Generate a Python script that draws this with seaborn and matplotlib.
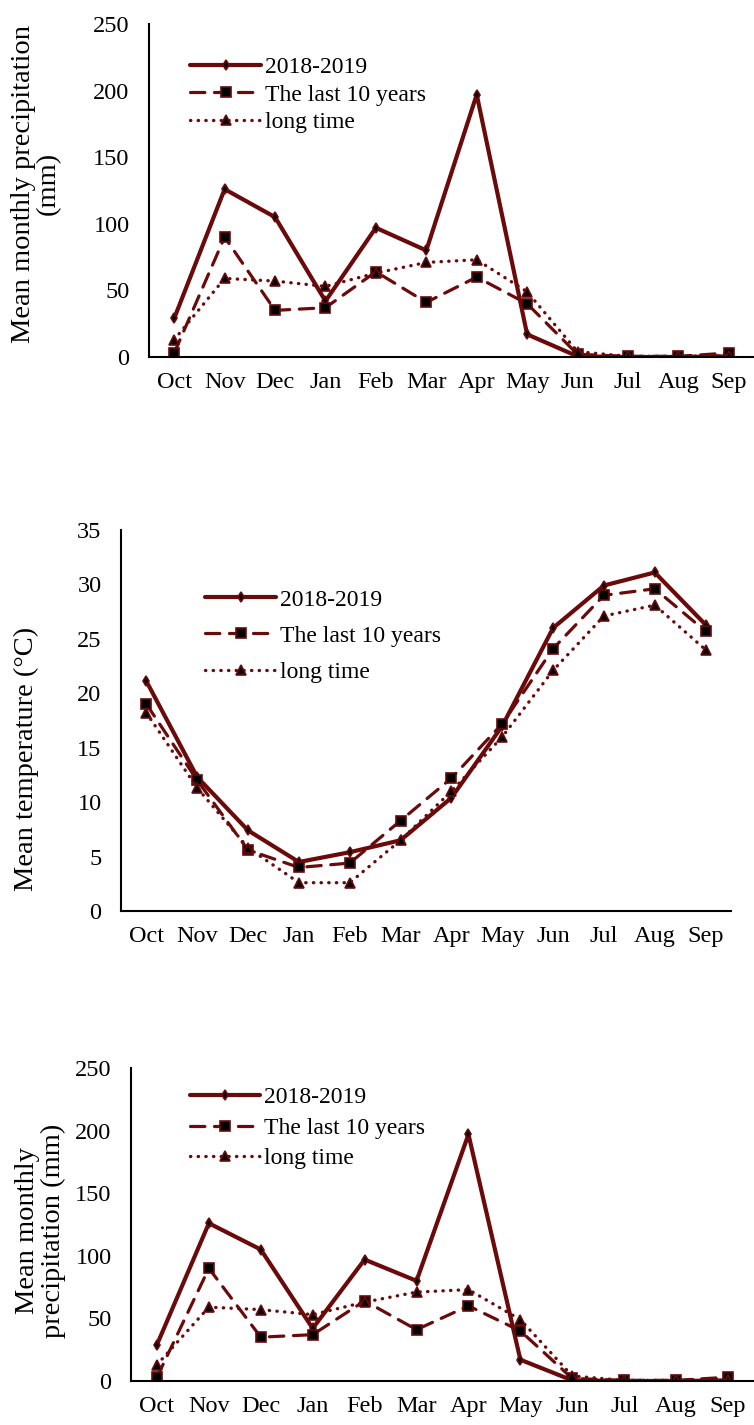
import matplotlib
matplotlib.use("Agg")
import matplotlib.pyplot as plt
import seaborn as sns
import numpy as np
import pandas as pd

months = ["Oct", "Nov", "Dec", "Jan", "Feb", "Mar", "Apr", "May", "Jun", "Jul", "Aug", "Sep"]
series_names = ["2018-2019", "The last 10 years", "long time"]

precip_2018 = [29, 126, 105, 42, 97, 80, 197, 17, 0.5, 0, 0, 0.5]
precip_10yr = [3, 90, 35, 37, 64, 41, 60, 40, 2, 0.5, 0.5, 3]
precip_long = [13, 59, 57, 53, 63, 71, 73, 49, 4, 0.5, 0.5, 1]

temp_2018 = [21.1, 12.3, 7.4, 4.5, 5.4, 6.5, 10.4, 17.0, 26.0, 29.9, 31.1, 26.3]
temp_10yr = [19.0, 12.0, 5.6, 4.0, 4.4, 8.3, 12.2, 17.2, 24.1, 29.0, 29.6, 25.7]
temp_long = [18.2, 11.3, 5.8, 2.6, 2.6, 6.5, 11.0, 16.0, 22.1, 27.1, 28.1, 24.0]

sns.set_theme(style="white")
plt.rcParams["font.family"] = ["Liberation Serif", "DejaVu Serif"]

color = "#6B0A0A"
styles = [
    dict(linestyle="-", marker="d", markersize=5, linewidth=3.0),
    dict(linestyle=(0, (4.5, 3.0)), marker="s", markersize=6.5, linewidth=2.3),
    dict(linestyle=(0, (0.1, 2.2)), marker="^", markersize=6.5, linewidth=2.4),
]

fig = plt.figure(figsize=(7.54, 14.25), dpi=100)

FS = 17.5

def panel(rect, datasets, ymax, ystep, ylabel, label_xy, leg_anchor, leg_spacing):
    ax = fig.add_axes(rect)
    x = np.arange(len(months))
    for name, vals, st in zip(series_names, datasets, styles):
        df = pd.DataFrame({"m": x, "v": vals})
        sns.lineplot(data=df, x="m", y="v", ax=ax, color=color, label=name,
                     markeredgecolor=color, markerfacecolor="black",
                     markeredgewidth=1.2, dash_capstyle="round", **st)
    ax.set_xlim(-0.5, 11.5)
    ax.set_ylim(0, ymax)
    ax.set_yticks(np.arange(0, ymax + 0.1, ystep))
    ax.set_xticks(x)
    ax.set_xticklabels(months)
    ax.tick_params(axis="y", length=0, labelsize=FS, pad=14, colors="black")
    ax.tick_params(axis="x", length=0, labelsize=FS, pad=11, colors="black")
    ax.set_xlabel("")
    ax.set_ylabel(ylabel, fontsize=20.5, color="black", linespacing=1.0)
    ax.yaxis.set_label_coords(*label_xy)
    for s in ["top", "right"]:
        ax.spines[s].set_visible(False)
    for s in ["left", "bottom"]:
        ax.spines[s].set_color("black")
        ax.spines[s].set_linewidth(1.5)
    ax.grid(False)
    leg = ax.legend(loc="center left", bbox_to_anchor=leg_anchor, frameon=False,
                    fontsize=17, handlelength=3.0, handletextpad=0.15,
                    labelspacing=leg_spacing, borderaxespad=0, borderpad=0)
    for t in leg.get_texts():
        t.set_color("black")
    return ax

# top precipitation: axes px left 149, right 754, y 24..357
panel([149 / 754, 1 - 357 / 1425, 605 / 754, 333 / 1425],
      [precip_2018, precip_10yr, precip_long],
      250, 50, "Mean monthly precipitation\n(mm)", (-0.145, 0.52), (0.068, 0.787), 0.25)
# middle temperature: left 121, right 731, y 530..911
panel([121 / 754, 1 - 911 / 1425, 610 / 754, 381 / 1425],
      [temp_2018, temp_10yr, temp_long],
      35, 5, "Mean temperature (°C)", (-0.135, 0.40), (0.138, 0.722), 0.62)
# bottom precipitation: left 131, right 754, y 1068..1381
panel([131 / 754, 1 - 1381 / 1425, 623 / 754, 313 / 1425],
      [precip_2018, precip_10yr, precip_long],
      250, 50, "Mean monthly\nprecipitation (mm)", (-0.105, 0.48), (0.094, 0.808), 0.38)

fig.savefig("out.png", dpi=100, facecolor="white")
